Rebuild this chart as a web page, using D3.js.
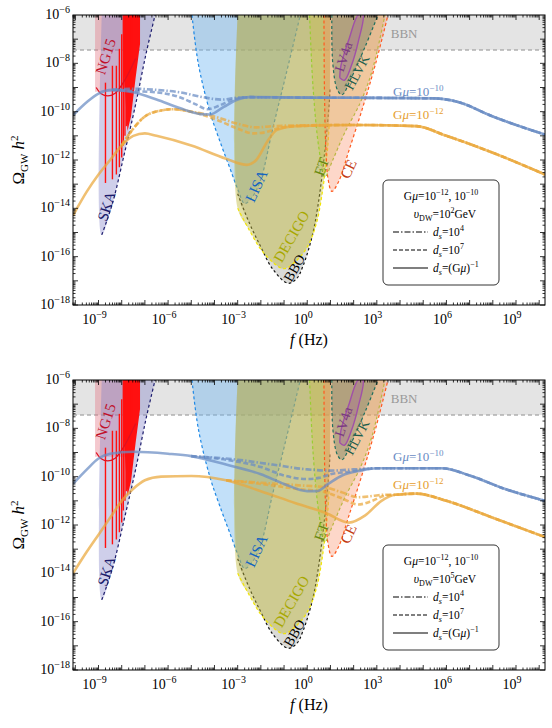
<!DOCTYPE html>
<meta charset="utf-8">
<style>
  body { margin: 0; background: #fff; }
  text { font-family: "Liberation Serif", "DejaVu Serif", serif; }
</style>
<script src="https://d3js.org/d3.v7.min.js"></script>
<div id="chart"></div>
<script>
// ---- data (log10 f, log10 Omega h^2) ----
const xTickExps = [-9, -6, -3, 0, 3, 6, 9];
const yTickExps = [-6, -8, -10, -12, -14, -16, -18];

// top panel: v_DW = 10^2 GeV
const blueSolidA = [[-10.1,-10.15],[-9.5,-9.6],[-9,-9.25],[-8.4,-9.1],[-7.5,-9.2],[-6.5,-9.5],[-5.5,-9.85],[-4.6,-10.1],[-4.2,-10.12],[-3.6,-9.8],[-3.0,-9.5],[-2.5,-9.4],[0,-9.42],[3,-9.43],[5.5,-9.45],[6.5,-9.6],[8,-10.2],[10.25,-10.95]];
const blueDashA = [[-8.4,-9.1],[-7.5,-9.15],[-6.5,-9.2],[-5.5,-9.4],[-4.8,-9.7],[-4.3,-9.9],[-3.8,-9.75],[-3.2,-9.5],[-2.5,-9.4],[0,-9.42],[3,-9.43],[5.5,-9.45],[6.5,-9.6],[8,-10.2],[10.25,-10.95]];
const blueDotDashA = [[-8.4,-9.1],[-7.5,-9.05],[-6.5,-9.1],[-5.5,-9.2],[-4.5,-9.4],[-3.7,-9.5],[-3.0,-9.42],[-2.5,-9.4],[0,-9.42],[3,-9.43],[5.5,-9.45],[6.5,-9.6],[8,-10.2],[10.25,-10.95]];
const orangeSolidA = [[-10.1,-14.3],[-9.5,-13.3],[-9,-12.6],[-8.5,-12.0],[-8,-11.4],[-7.5,-11.0],[-7.0,-10.9],[-6.5,-11.0],[-5,-11.4],[-3.5,-11.95],[-2.6,-12.2],[-2.2,-12.0],[-1.7,-11.2],[-1.3,-10.75],[-0.5,-10.6],[2,-10.55],[4.7,-10.6],[6,-11.0],[8,-11.7],[10.25,-12.6]];
const orangeDashA = [[-8,-11.4],[-7.5,-10.7],[-7,-10.2],[-6.3,-9.95],[-5.8,-9.9],[-5,-10.0],[-4,-10.3],[-3,-10.7],[-2.35,-10.9],[-1.8,-10.85],[-1.3,-10.7],[-0.5,-10.6],[2,-10.55],[4.7,-10.6],[6,-11.0],[8,-11.7],[10.25,-12.6]];
const orangeDotDashA = [[-8,-11.4],[-7.5,-10.7],[-7,-10.2],[-6.3,-9.95],[-5.8,-9.9],[-5,-10.0],[-4,-10.2],[-3,-10.5],[-2.2,-10.65],[-1.5,-10.6],[-0.5,-10.57],[2,-10.55],[4.7,-10.6],[6,-11.0],[8,-11.7],[10.25,-12.6]];

// bottom panel: v_DW = 10^5 GeV
const blueSolidB = [[-10.1,-10.3],[-9.5,-9.7],[-9,-9.25],[-8.5,-9.05],[-7.5,-8.97],[-6,-9.05],[-5,-9.15],[-3.5,-9.5],[-2,-9.9],[-1,-10.3],[0,-10.6],[0.4,-10.6],[0.9,-10.3],[1.5,-9.95],[2.3,-9.75],[3,-9.65],[5.8,-9.65],[7,-9.95],[8.5,-10.5],[10.25,-11.0]];
const blueDashB = [[-5,-9.15],[-3.5,-9.3],[-2,-9.6],[-1,-9.95],[0,-10.1],[0.5,-10.05],[1,-9.9],[1.8,-9.8],[3,-9.65],[5.8,-9.65],[7,-9.95],[8.5,-10.5],[10.25,-11.0]];
const blueDotDashB = [[-5,-9.15],[-3,-9.3],[-1.5,-9.5],[0,-9.7],[1,-9.75],[2,-9.7],[3,-9.65],[5.8,-9.65],[7,-9.95],[8.5,-10.5],[10.25,-11.0]];
const orangeSolidB = [[-10.1,-14.0],[-9.5,-13.1],[-9,-12.4],[-8.5,-11.7],[-8,-11.0],[-7.5,-10.5],[-7,-10.15],[-6.3,-10.0],[-5,-9.97],[-3.5,-10.15],[-2,-10.6],[-0.5,-11.1],[0.8,-11.5],[1.8,-11.9],[2.5,-11.6],[3.2,-11.0],[3.8,-10.75],[4.7,-10.7],[6,-11.0],[8,-11.7],[10.25,-12.5]];
const orangeDashB = [[-3.5,-10.15],[-2,-10.3],[-0.5,-10.5],[0.8,-10.65],[1.5,-10.9],[2.2,-11.15],[2.8,-11.0],[3.3,-10.8],[3.8,-10.75],[4.7,-10.7],[6,-11.0],[8,-11.7],[10.25,-12.5]];
const orangeDotDashB = [[-3.5,-10.15],[-2,-10.25],[-0.5,-10.35],[0.8,-10.45],[1.5,-10.65],[2.2,-10.85],[2.8,-10.8],[3.3,-10.75],[3.8,-10.75],[4.7,-10.7],[6,-11.0],[8,-11.7],[10.25,-12.5]];

// detector sensitivity regions
const bbnLevel = -7.45;
const ng15Box = [[-9.15,-6],[-9.15,-9.18],[-7.86,-9.18],[-7.86,-6]];
const ng15Curve = [[-9.1,-9.0],[-8.9,-9.25],[-8.6,-9.35],[-8.3,-9.25],[-8.0,-8.9],[-7.7,-8.4],[-7.4,-7.8]];
const ng15BinX = [-8.70,-8.40,-8.23,-8.10,-8.00,-7.93,-7.86,-7.80,-7.75,-7.70,-7.66,-7.63,-7.59,-7.56];
const ng15Low = [-12.95,-12.8,-12.6,-12.3,-11.9,-11.4,-11.0,-10.6,-10.2,-9.8,-9.4,-9.0,-8.7,-8.4];
const ng15High = [-8.8,-8.1,-8.1,-7.4,-6.8,-6,-6,-6,-6,-6,-6,-6,-6,-6];
const ng15Wedge = [[-7.9,-6],[-7.21,-6],[-7.21,-7.2],[-7.4,-8.6],[-7.6,-10.2],[-7.75,-10.8],[-7.9,-8.5]];
const skaCurve = [[-8.86,-6],[-8.86,-15.1],[-8.4,-13.8],[-7.9,-11.8],[-7.4,-9.7],[-6.95,-7.6],[-6.56,-6]];
const lisaCurve = [[-4.97,-6],[-4.7,-8],[-4.2,-10],[-3.7,-11.4],[-3.35,-12.3],[-3.0,-13.2],[-2.7,-13.8],[-2.35,-13.5],[-2.0,-12.8],[-1.5,-10.75],[-0.9,-8.4],[-0.3,-6]];
const bboCurve = [[-3,-6],[-3,-13.4],[-2.5,-14.6],[-2,-15.6],[-1.5,-16.5],[-0.83,-17.1],[-0.45,-16.9],[-0.19,-16.4],[0.2,-15.2],[0.46,-13.9],[0.75,-11.7],[0.95,-9.6],[0.98,-9.0],[1.0,-6]];
const decigoCurve = [[-3,-6],[-3,-14],[-2.5,-14.9],[-2,-15.7],[-1.4,-16.3],[-1.0,-16.5],[-0.5,-16.2],[0.0,-15.6],[0.4,-14.6],[0.7,-13.0],[0.88,-11.5],[0.95,-10.5],[1.0,-6]];
const etCurve = [[0.1,-6],[0.25,-9],[0.5,-11.5],[0.76,-12.7],[1.1,-12.0],[1.6,-10.9],[2.3,-9.6],[2.8,-8.3],[3.35,-6]];
const ceCurve = [[0.72,-6],[0.74,-9],[0.8,-11.5],[0.9,-12.8],[1.06,-13.3],[1.35,-12.9],[1.8,-11.6],[2.4,-9.8],[2.95,-8.0],[3.48,-6]];
const hlvkCurve = [[1.06,-6],[1.1,-8],[1.3,-9.1],[1.5,-9.3],[1.9,-8.6],[2.5,-7.3],[3.05,-6]];
const lv4aCurve = [[1.4,-8.6],[1.6,-8.7],[1.9,-8.1],[2.2,-7.1],[2.4,-6],[2.2,-6],[1.8,-7.0],[1.45,-8.1],[1.4,-8.6]];

const W = 552, H = 728;
const svg = d3.select("#chart").append("svg").attr("width", W).attr("height", H);

const blue = "#6a8cc4", orange = "#eaa83c";

function drawPanel(top, vdwExp, curves) {
  const x = d3.scaleLinear().domain([-10.1, 10.25]).range([73, 545]);
  const y = d3.scaleLinear().domain([-6, -18]).range([top, top + 290]);
  const g = svg.append("g");
  const clipId = "clip" + top;
  g.append("clipPath").attr("id", clipId).append("rect")
    .attr("x", 73).attr("y", top).attr("width", 472).attr("height", 290);
  const p = g.append("g").attr("clip-path", `url(#${clipId})`);
  const line = d3.line().x(d => x(d[0])).y(d => y(d[1])).curve(d3.curveMonotoneX);
  const poly = d3.line().x(d => x(d[0])).y(d => y(d[1])).curve(d3.curveCatmullRom);
  const straight = d3.line().x(d => x(d[0])).y(d => y(d[1]));

  // BBN band
  p.append("rect").attr("x", x(-10.1)).attr("y", y(-6)).attr("width", 472).attr("height", y(bbnLevel) - y(-6)).attr("fill", "#e4e4e4");
  p.append("line").attr("x1", x(-10.1)).attr("x2", x(10.25)).attr("y1", y(bbnLevel)).attr("y2", y(bbnLevel))
    .attr("stroke", "#777").attr("stroke-width", 0.8).attr("stroke-dasharray", "4,3");

  function region(pts, fill, stroke, dash, strokePts) {
    p.append("path").attr("d", poly(pts) + "Z").attr("fill", fill).attr("stroke", "none");
    if (stroke) p.append("path").attr("d", poly(strokePts || pts)).attr("fill", "none")
      .attr("stroke", stroke).attr("stroke-width", 1.2).attr("stroke-dasharray", dash);
  }
  p.append("path").attr("d", straight(ng15Box) + "Z").attr("fill", "rgba(225,110,125,0.38)");
  region(skaCurve, "rgba(130,130,200,0.38)", "#1c1c6c", "3,2.5", skaCurve.slice(1));
  region(lisaCurve, "rgba(110,180,240,0.42)", "#1e88e5", "3,2.5");
  region(bboCurve, "rgba(150,150,140,0.35)", "#111", "2.5,2.5", bboCurve.slice(1, -1));
  region(decigoCurve, "rgba(190,185,60,0.45)", "#f2e600", "3,2.5", decigoCurve.slice(1, -1));
  region(etCurve, "rgba(200,190,70,0.35)", "#9acd32", "3,2.5");
  region(ceCurve, "rgba(250,140,100,0.35)", "#ff5a1f", "3,2.5");
  region(hlvkCurve, "rgba(60,100,80,0.3)", "#1f6f5f", "3,2.5");
  p.append("path").attr("d", poly(lv4aCurve)).attr("fill", "rgba(160,80,160,0.25)").attr("stroke", "#a050a8").attr("stroke-width", 1.4);

  // NANOGrav 15yr
  p.append("path").attr("d", straight(ng15Wedge) + "Z").attr("fill", "#ff1010");
  ng15BinX.forEach((bx, i) => {
    p.append("line").attr("x1", x(bx)).attr("x2", x(bx)).attr("y1", y(ng15Low[i])).attr("y2", y(ng15High[i]))
      .attr("stroke", "#ff1010").attr("stroke-width", 1.4);
  });
  p.append("path").attr("d", line(ng15Curve)).attr("fill", "none").attr("stroke", "#e01020").attr("stroke-width", 1.3);

  // cosmic string + domain wall spectra
  const styles = { solid: null, dash: "5,2.5", dotdash: "6,2,1.5,2" };
  curves.forEach(c => {
    p.append("path").attr("d", line(c.pts)).attr("fill", "none").attr("stroke", c.color)
      .attr("stroke-opacity", 0.72).attr("stroke-width", 2.6).attr("stroke-dasharray", styles[c.style]);
  });

  // detector labels
  const labels = [
    ["NG15", -8.63, -7.74, "#c0102a", -72, 15],
    ["SKA", -8.59, -13.93, "#1c1c6c", -72, 15],
    ["LISA", -2.13, -13.1, "#1565c0", -65, 15],
    ["DECIGO", -0.62, -15.2, "#a8a800", -60, 15],
    ["BBO", -0.5, -16.5, "#000", -60, 14],
    ["ET", 0.68, -12.3, "#6a8a10", -70, 15],
    ["CE", 1.84, -12.4, "#c33a10", -65, 15],
    ["LV4a", 1.62, -7.75, "#7a3a80", -72, 14],
    ["HLVK", 2.2, -8.4, "#1f5f4f", -62, 14]
  ];
  labels.forEach(([t, lx, ly, col, rot, fs]) => {
    g.append("text").attr("transform", `translate(${x(lx)},${y(ly)}) rotate(${rot})`)
      .attr("text-anchor", "middle").attr("dominant-baseline", "middle")
      .attr("font-size", fs).attr("fill", col).text(t);
  });
  g.append("text").attr("x", x(3.6)).attr("y", y(-6.95)).attr("font-size", 13).attr("fill", "#999").text("BBN");

  function gmuLabel(lx, ly, col, ex) {
    const t = g.append("text").attr("x", x(lx)).attr("y", y(ly)).attr("font-size", 13).attr("fill", col);
    t.append("tspan").text("G");
    t.append("tspan").attr("font-style", "italic").text("μ");
    t.append("tspan").text("=10");
    t.append("tspan").attr("dy", -5).attr("font-size", 9).text(ex);
  }
  gmuLabel(3.7, curves.gmuY[0], blue, "−10");
  gmuLabel(3.7, curves.gmuY[1], "#e6a030", "−12");

  // frame and ticks
  g.append("rect").attr("x", 73).attr("y", top).attr("width", 472).attr("height", 290)
    .attr("fill", "none").attr("stroke", "#000").attr("stroke-width", 1);
  const tk = g.append("g").attr("stroke", "#000").attr("stroke-width", 0.8);
  for (let d = -11; d <= 10; d++) {
    for (let k = 1; k <= 9; k++) {
      const v = d + Math.log10(k);
      if (v < -10.1 || v > 10.25) continue;
      const L = k === 1 ? 5 : 2.5;
      tk.append("line").attr("x1", x(v)).attr("x2", x(v)).attr("y1", top + 290).attr("y2", top + 290 - L);
      tk.append("line").attr("x1", x(v)).attr("x2", x(v)).attr("y1", top).attr("y2", top + L);
    }
  }
  for (let d = -18; d < -6; d++) {
    for (let k = 1; k <= 9; k++) {
      const v = d + Math.log10(k);
      const L = k === 1 ? 5 : 2.5;
      tk.append("line").attr("x1", 73).attr("x2", 73 + L).attr("y1", y(v)).attr("y2", y(v));
      tk.append("line").attr("x1", 545).attr("x2", 545 - L).attr("y1", y(v)).attr("y2", y(v));
    }
  }
  xTickExps.forEach(e => {
    const t = g.append("text").attr("x", x(e) - 4).attr("y", top + 309).attr("text-anchor", "middle").attr("font-size", 14);
    t.append("tspan").text("10");
    t.append("tspan").attr("dy", -6).attr("font-size", 10).text(e < 0 ? "−" + (-e) : e);
  });
  yTickExps.forEach(e => {
    const t = g.append("text").attr("x", 70).attr("y", y(e) + 4).attr("text-anchor", "end").attr("font-size", 14);
    t.append("tspan").text("10");
    t.append("tspan").attr("dy", -6).attr("font-size", 10).text("−" + (-e));
  });

  // axis titles
  const xt = g.append("text").attr("x", 309).attr("y", top + 330).attr("text-anchor", "middle").attr("font-size", 16);
  xt.append("tspan").attr("font-style", "italic").text("f");
  xt.append("tspan").text(" (Hz)");
  const yt = g.append("text").attr("transform", `translate(24,${top + 145}) rotate(-90)`).attr("text-anchor", "middle").attr("font-size", 17);
  yt.append("tspan").text("Ω");
  yt.append("tspan").attr("dy", 4).attr("font-size", 11).text("GW");
  yt.append("tspan").attr("dy", -4).attr("font-style", "italic").text(" h");
  yt.append("tspan").attr("dy", -6).attr("font-size", 11).text("2");

  // legend
  const lg = g.append("g").attr("transform", `translate(383,${top + 165})`);
  lg.append("rect").attr("width", 116).attr("height", 105).attr("rx", 5).attr("fill", "#fff").attr("stroke", "#000").attr("stroke-width", 0.8);
  let t = lg.append("text").attr("x", 58).attr("y", 20).attr("text-anchor", "middle").attr("font-size", 11.5);
  t.append("tspan").text("G"); t.append("tspan").attr("font-style", "italic").text("μ");
  t.append("tspan").text("=10"); t.append("tspan").attr("dy", -5).attr("font-size", 8).text("−12");
  t.append("tspan").attr("dy", 5).text(", 10"); t.append("tspan").attr("dy", -5).attr("font-size", 8).text("−10");
  t = lg.append("text").attr("x", 62).attr("y", 38).attr("text-anchor", "middle").attr("font-size", 11.5);
  t.append("tspan").attr("font-style", "italic").text("υ");
  t.append("tspan").attr("dy", 3).attr("font-size", 8).text("DW");
  t.append("tspan").attr("dy", -3).text("=10");
  t.append("tspan").attr("dy", -5).attr("font-size", 8).text(vdwExp);
  t.append("tspan").attr("dy", 5).text("GeV");
  const entries = [["6,2,1.5,2", "10", "4"], ["4,2", "10", "7"], [null, "(Gμ)", "−1"]];
  entries.forEach(([dash, base, ex], i) => {
    const yy = 56 + i * 18;
    lg.append("line").attr("x1", 10).attr("x2", 45).attr("y1", yy - 4).attr("y2", yy - 4)
      .attr("stroke", "#000").attr("stroke-width", 1.2).attr("stroke-dasharray", dash);
    const tt = lg.append("text").attr("x", 50).attr("y", yy).attr("font-size", 11.5);
    tt.append("tspan").attr("font-style", "italic").text("d");
    tt.append("tspan").attr("dy", 3).attr("font-size", 8).attr("font-style", "italic").text("s");
    tt.append("tspan").attr("dy", -3).text("=" + (base === "(Gμ)" ? "(G" : base));
    if (base === "(Gμ)") { tt.append("tspan").attr("font-style", "italic").text("μ"); tt.append("tspan").text(")"); }
    tt.append("tspan").attr("dy", -5).attr("font-size", 8).text(ex);
  });
}

const curvesA = [
  { pts: orangeSolidA, color: orange, style: "solid" },
  { pts: orangeDashA, color: orange, style: "dash" },
  { pts: orangeDotDashA, color: orange, style: "dotdash" },
  { pts: blueSolidA, color: blue, style: "solid" },
  { pts: blueDashA, color: blue, style: "dash" },
  { pts: blueDotDashA, color: blue, style: "dotdash" }
];
curvesA.gmuY = [-9.35, -10.3];
const curvesB = [
  { pts: orangeSolidB, color: orange, style: "solid" },
  { pts: orangeDashB, color: orange, style: "dash" },
  { pts: orangeDotDashB, color: orange, style: "dotdash" },
  { pts: blueSolidB, color: blue, style: "solid" },
  { pts: blueDashB, color: blue, style: "dash" },
  { pts: blueDotDashB, color: blue, style: "dotdash" }
];
curvesB.gmuY = [-9.35, -10.5];

drawPanel(15, "2", curvesA);
drawPanel(380, "5", curvesB);
</script>
